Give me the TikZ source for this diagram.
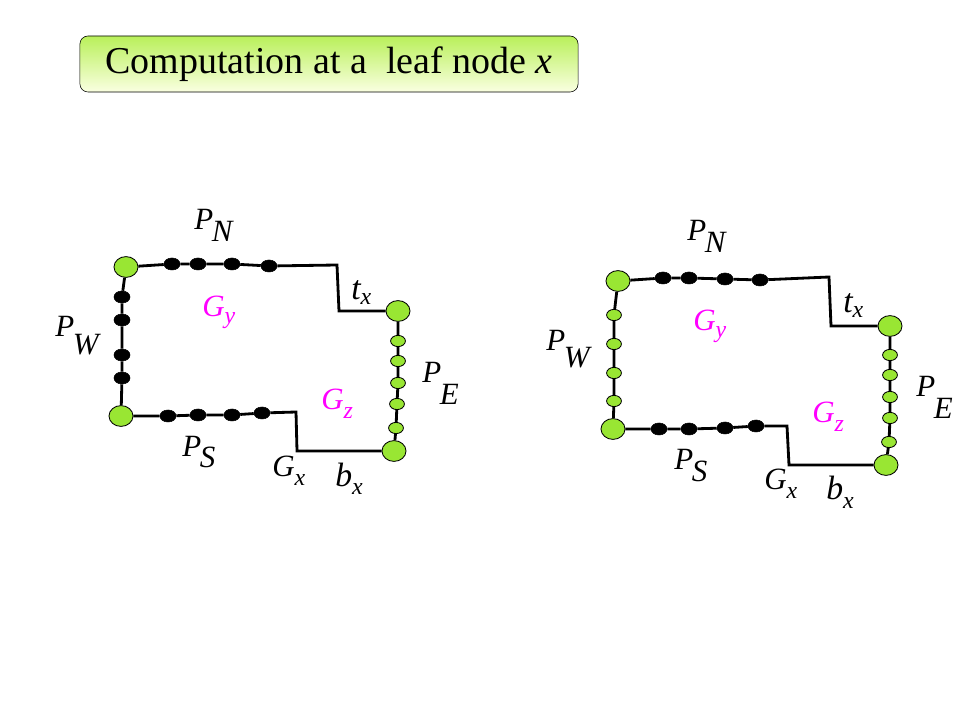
\documentclass[tikz,border=0pt]{standalone}
\usepackage{fontspec}
\setmainfont{Liberation Serif}
\usetikzlibrary{shapes.geometric}
\definecolor{nodegreen}{RGB}{153,230,51}
\definecolor{boxtop}{RGB}{185,240,90}
\definecolor{boxbottom}{RGB}{250,255,225}
\definecolor{labelpink}{RGB}{255,0,255}
\newcommand{\bsub}[3]{#1\kern-1pt\raisebox{-#3}{#2}}
\newcommand{\ssub}[3]{#1\raisebox{-#3}{\fontsize{17}{17}\selectfont #2}}

\begin{document}
\begin{tikzpicture}[x=0.025cm,y=-0.025cm]
		\tikzset{vertex/.style = {shape=ellipse,draw,fill=nodegreen,line width=0.6pt,inner sep=0pt,minimum width=0.6cm,minimum height=0.52cm}}
		\tikzset{vertex2/.style = {shape=ellipse,draw,fill=nodegreen,line width=0.6pt,inner sep=0pt,minimum width=0.37cm,minimum height=0.28cm}}
		\tikzset{vertex3/.style = {shape=ellipse,draw,fill=black,inner sep=0pt,minimum width=0.4cm,minimum height=0.3cm}}
		\tikzset{edge/.style = {line width=2pt,line join=miter}}
		\tikzset{lbl/.style = {anchor=base west,inner sep=0pt,font=\fontsize{22}{24}\selectfont\itshape}}
		\tikzset{lbl2/.style = {lbl,text=labelpink}}
		\tikzset{lbl3/.style = {lbl,font=\fontsize{24}{26}\selectfont\itshape}}
		\useasboundingbox (0,0) rectangle (960,720);
		
		% title
		\node[draw,rounded corners=0.2cm,top color=boxtop,bottom color=boxbottom,minimum width=12.45cm,minimum height=1.4cm,font=\fontsize{27}{30}\selectfont] (head) at (329,64) {Computation at a\ \ leaf node \textit{x}};
		
		% left vertices
		\node[vertex] (lnw) at (126,267) {};
		\node[vertex3] (ln1) at (172,264) {};
		\node[vertex3] (ln2) at (198,264) {};
		\node[vertex3] (ln3) at (232,264) {};
		\node[vertex3] (ln4) at (269,266) {};
		\coordinate (lt1) at (337,265);
		\coordinate (lt2) at (339,311);
		\node[vertex] (lne) at (398,311) {};
		\node[vertex2] (le1) at (398,341) {};
		\node[vertex2] (le2) at (398,361) {};
		\node[vertex2] (le3) at (398,383) {};
		\node[vertex2] (le4) at (397,404) {};
		\node[vertex2] (le5) at (396,428) {};
		\node[vertex] (lse) at (394,451) {};
		\coordinate (lb1) at (297,451);
		\coordinate (lb2) at (296,412);
		\node[vertex3] (ls4) at (262,413) {};
		\node[vertex3] (ls3) at (232,415) {};
		\node[vertex3] (ls2) at (198,415) {};
		\node[vertex3] (ls1) at (168,416) {};
		\node[vertex] (lsw) at (121,416) {};
		\node[vertex3] (lw4) at (122,378) {};
		\node[vertex3] (lw3) at (122,355) {};
		\node[vertex3] (lw2) at (122,320) {};
		\node[vertex3] (lw1) at (122,297) {};
		
		% right vertices
		\node[vertex] (rnw) at (618,281) {};
		\node[vertex3] (rn1) at (663,278) {};
		\node[vertex3] (rn2) at (689,278) {};
		\node[vertex3] (rn3) at (725,279) {};
		\node[vertex3] (rn4) at (760,280) {};
		\coordinate (rt1) at (829,277);
		\coordinate (rt2) at (831,326);
		\node[vertex] (rne) at (890,326) {};
		\node[vertex2] (re1) at (890,355) {};
		\node[vertex2] (re2) at (890,375) {};
		\node[vertex2] (re3) at (890,397) {};
		\node[vertex2] (re4) at (890,418) {};
		\node[vertex2] (re5) at (889,442) {};
		\node[vertex] (rse) at (886,465) {};
		\coordinate (rb1) at (789,465);
		\coordinate (rb2) at (787,426);
		\node[vertex3] (rs4) at (756,426) {};
		\node[vertex3] (rs3) at (725,428) {};
		\node[vertex3] (rs2) at (689,429) {};
		\node[vertex3] (rs1) at (659,429) {};
		\node[vertex] (rsw) at (613,429) {};
		\node[vertex2] (rw4) at (614,401) {};
		\node[vertex2] (rw3) at (614,373) {};
		\node[vertex2] (rw2) at (614,344) {};
		\node[vertex2] (rw1) at (614,315) {};
		
		%edges
		\draw[edge] (lnw) -- (ln1) -- (ln2) -- (ln3) -- (ln4) -- (lt1) -- (lt2) -- (lne);
		\draw[edge] (lne) -- (le1) -- (le2) -- (le3) -- (le4) -- (le5) -- (lse);
		\draw[edge] (lse) -- (lb1) -- (lb2) -- (ls4) -- (ls3) -- (ls2) -- (ls1) -- (lsw);
		\draw[edge] (lsw) -- (lw4) -- (lw3) -- (lw2) -- (lw1) -- (lnw);
		
		\draw[edge] (rnw) -- (rn1) -- (rn2) -- (rn3) -- (rn4) -- (rt1) -- (rt2) -- (rne);
		\draw[edge] (rne) -- (re1) -- (re2) -- (re3) -- (re4) -- (re5) -- (rse);
		\draw[edge] (rse) -- (rb1) -- (rb2) -- (rs4) -- (rs3) -- (rs2) -- (rs1) -- (rsw);
		\draw[edge] (rsw) -- (rw4) -- (rw3) -- (rw2) -- (rw1) -- (rnw);
		
		% left labels
		\node[lbl] (lpn) at (194,230) {\bsub{P}{N}{8.5pt}};
		\node[lbl] (lpw) at (55,337) {\bsub{P}{W}{12.8pt}};
		\node[lbl] (lpe) at (422,383) {\bsub{P}{E}{15.6pt}};
		\node[lbl] (lps) at (182,457) {\bsub{P}{S}{7.8pt}};
		\node[lbl3] (ltx) at (351,300) {\ssub{t}{x}{3.5pt}};
		\node[lbl3] (lbx) at (335,487) {\ssub{b}{x}{5pt}};
		\node[lbl] (lgx) at (272,477) {\ssub{G}{x}{5.7pt}};
		\node[lbl2] (lgy) at (202,317) {\ssub{G}{y}{4.5pt}};
		\node[lbl2] (lgz) at (321,410) {\ssub{G}{z}{6.4pt}};
		
		% right labels
		\node[lbl] (rpn) at (687,241) {\bsub{P}{N}{8.5pt}};
		\node[lbl] (rpw) at (546,351) {\bsub{P}{W}{12pt}};
		\node[lbl] (rpe) at (916,397) {\bsub{P}{E}{15pt}};
		\node[lbl] (rps) at (674,470) {\bsub{P}{S}{8.5pt}};
		\node[lbl3] (rtx) at (843,313) {\ssub{t}{x}{3.5pt}};
		\node[lbl3] (rbx) at (826,500) {\ssub{b}{x}{5.7pt}};
		\node[lbl] (rgx) at (764,490) {\ssub{G}{x}{5.7pt}};
		\node[lbl2] (rgy) at (693,331) {\ssub{G}{y}{4.5pt}};
		\node[lbl2] (rgz) at (812,423) {\ssub{G}{z}{6.4pt}};
\end{tikzpicture}
\end{document}
